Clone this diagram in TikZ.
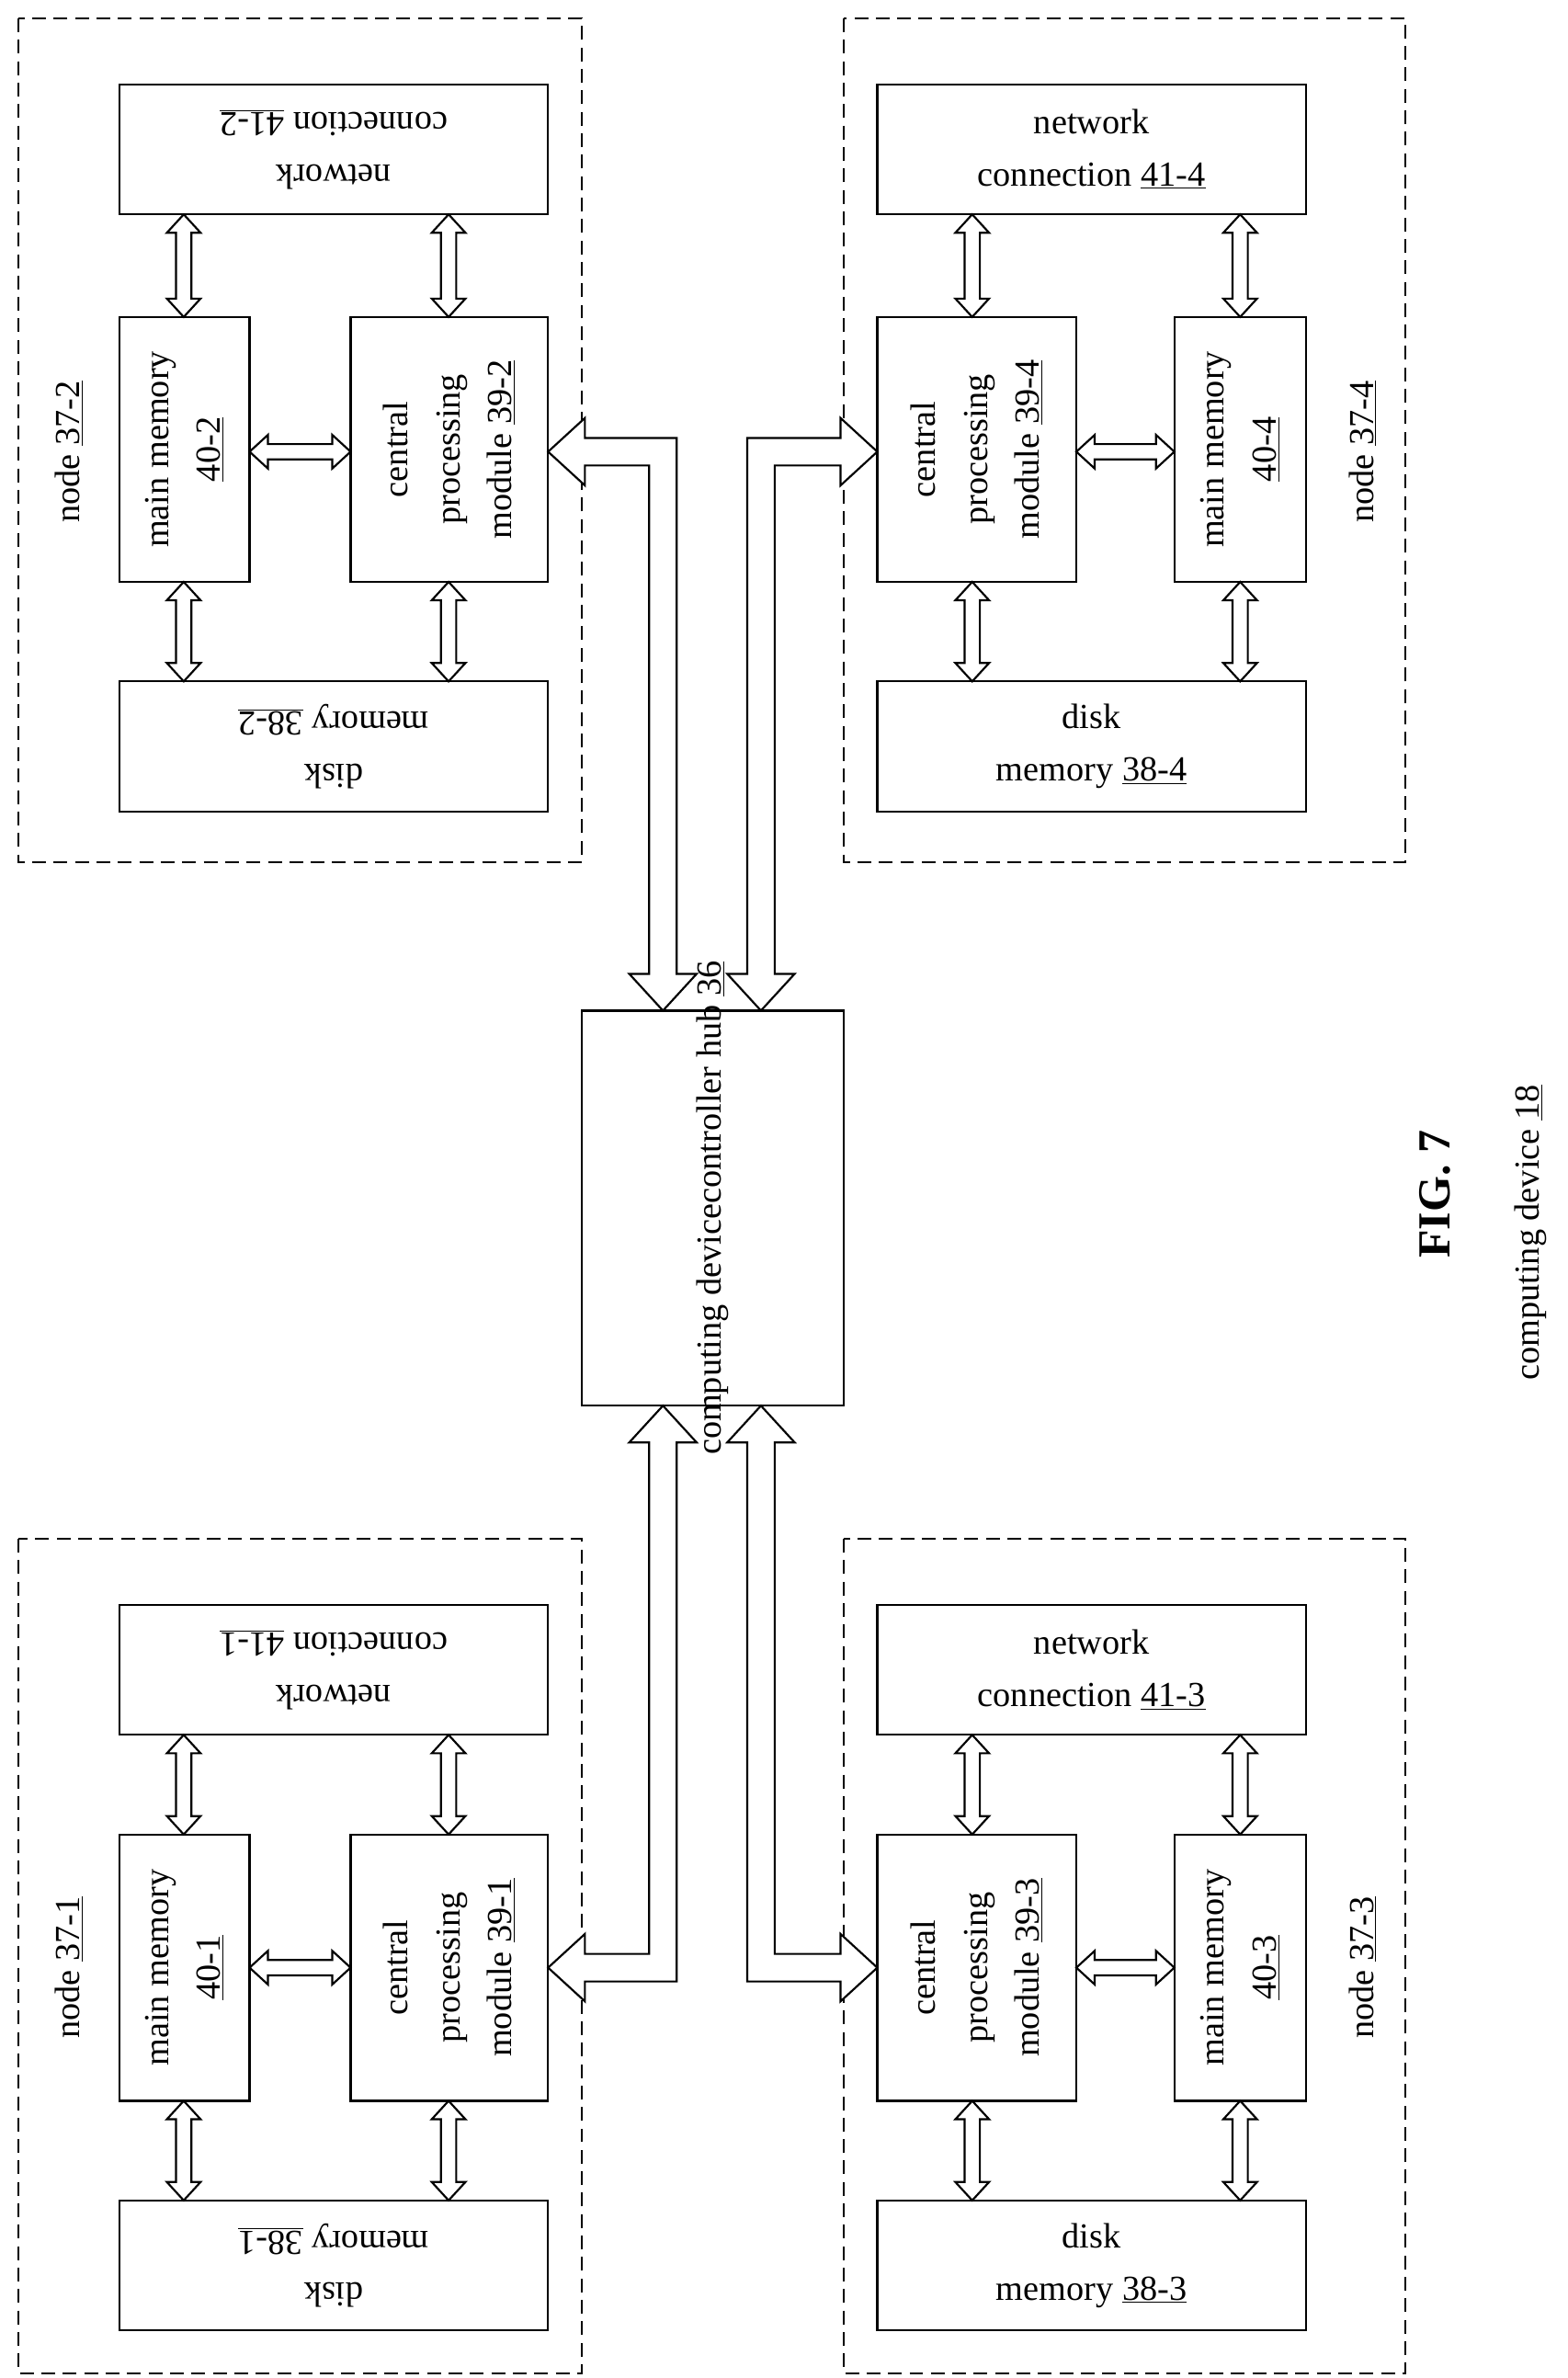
\documentclass[tikz,border=0pt]{standalone}
\usepackage{fontspec}
\setmainfont{Liberation Serif}
\begin{document}
\begin{tikzpicture}[x=1pt,y=-1pt,
  box/.style={draw,line width=1.3pt,align=center,inner sep=0pt,font=\fontsize{23}{34}\selectfont},
  grp/.style={draw,line width=1.3pt,dash pattern=on 9pt off 5pt},
  lab/.style={font=\fontsize{23}{34}\selectfont,rotate=90},
  arr/.style={draw,line width=1.3pt,fill=white}]
\useasboundingbox (0,0) rectangle (1024,1553);
\newcommand\mkbox[6]{\node[box,minimum width=#4-#2,minimum height=#5-#3] (#1) at ({(#2+#4)/2},{(#3+#5)/2}) {#6};}
% vertical double arrow: x, y1, y2
\newcommand\vda[3]{\path[arr] (#1,#2)--({#1+11},{#2+12})--({#1+5},{#2+12})--({#1+5},{#3-12})--({#1+11},{#3-12})--(#1,#3)--({#1-11},{#3-12})--({#1-5},{#3-12})--({#1-5},{#2+12})--({#1-11},{#2+12})--cycle;}
\newcommand\hda[3]{\path[arr] (#2,#1)--({#2+12},{#1+11})--({#2+12},{#1+5})--({#3-12},{#1+5})--({#3-12},{#1+11})--(#3,#1)--({#3-12},{#1-11})--({#3-12},{#1-5})--({#2+12},{#1-5})--({#2+12},{#1-11})--cycle;}
% dashed groups
\draw[grp] (12,12) rectangle (380,563);
\draw[grp] (551,12) rectangle (918,563);
\draw[grp] (12,1005) rectangle (380,1550);
\draw[grp] (551,1005) rectangle (918,1550);
% hub
\mkbox{hub}{380}{660}{551}{918}{}
\node[lab] at (hub.center) {computing device\\[-2pt]controller hub \underline{36}};
% top-left node 37-2
\mkbox{n2}{78}{55}{358}{140}{}
\node[box,draw=none,rotate=180] at (n2.center) {network\\connection \underline{41-2}};
\mkbox{m2}{78}{207}{163}{380}{}
\node[box,draw=none,rotate=90] at (m2.center) {main memory\\\underline{40-2}};
\mkbox{c2}{229}{207}{358}{380}{}
\node[box,draw=none,rotate=90] at (c2.center) {central\\processing\\module \underline{39-2}};
\mkbox{d2}{78}{445}{358}{530}{}
\node[box,draw=none,rotate=180] at (d2.center) {disk\\memory \underline{38-2}};
\node[lab,align=center] (g2) at (45,295) {node \underline{37-2}};
% top-right node 37-4
\mkbox{n4}{573}{55}{853}{140}{network\\connection \underline{41-4}}
\mkbox{c4}{573}{207}{703}{380}{}
\node[box,draw=none,rotate=90] at (c4.center) {central\\processing\\module \underline{39-4}};
\mkbox{m4}{767}{207}{853}{380}{}
\node[box,draw=none,rotate=90] at (m4.center) {main memory\\\underline{40-4}};
\mkbox{d4}{573}{445}{853}{530}{disk\\memory \underline{38-4}}
\node[lab] (g4) at (890,295) {node \underline{37-4}};
% bottom-left node 37-1
\mkbox{n1}{78}{1048}{358}{1133}{}
\node[box,draw=none,rotate=180] at (n1.center) {network\\connection \underline{41-1}};
\mkbox{m1}{78}{1198}{163}{1372}{}
\node[box,draw=none,rotate=90] at (m1.center) {main memory\\\underline{40-1}};
\mkbox{c1}{229}{1198}{358}{1372}{}
\node[box,draw=none,rotate=90] at (c1.center) {central\\processing\\module \underline{39-1}};
\mkbox{d1}{78}{1437}{358}{1522}{}
\node[box,draw=none,rotate=180] at (d1.center) {disk\\memory \underline{38-1}};
\node[lab] (g1) at (45,1285) {node \underline{37-1}};
% bottom-right node 37-3
\mkbox{n3}{573}{1048}{853}{1133}{network\\connection \underline{41-3}}
\mkbox{c3}{573}{1198}{703}{1372}{}
\node[box,draw=none,rotate=90] at (c3.center) {central\\processing\\module \underline{39-3}};
\mkbox{m3}{767}{1198}{853}{1372}{}
\node[box,draw=none,rotate=90] at (m3.center) {main memory\\\underline{40-3}};
\mkbox{d3}{573}{1437}{853}{1522}{disk\\memory \underline{38-3}}
\node[lab] (g3) at (890,1285) {node \underline{37-3}};
% small arrows
\vda{120}{140}{207}\vda{293}{140}{207}\vda{120}{380}{445}\vda{293}{380}{445}\hda{295}{163}{229}
\vda{635}{140}{207}\vda{810}{140}{207}\vda{635}{380}{445}\vda{810}{380}{445}\hda{295}{703}{767}
\vda{120}{1133}{1198}\vda{293}{1133}{1198}\vda{120}{1372}{1437}\vda{293}{1372}{1437}\hda{1285}{163}{229}
\vda{635}{1133}{1198}\vda{810}{1133}{1198}\vda{635}{1372}{1437}\vda{810}{1372}{1437}\hda{1285}{703}{767}
% big elbow arrows
\path[arr] (433,660)--(455,636)--(442,636)--(442,286)--(382,286)--(382,273)--(358,295)--(382,317)--(382,304)--(424,304)--(424,636)--(411,636)--cycle;
\path[arr] (497,660)--(475,636)--(488,636)--(488,286)--(549,286)--(549,273)--(573,295)--(549,317)--(549,304)--(506,304)--(506,636)--(519,636)--cycle;
\path[arr] (433,918)--(455,942)--(442,942)--(442,1294)--(382,1294)--(382,1307)--(358,1285)--(382,1263)--(382,1276)--(424,1276)--(424,942)--(411,942)--cycle;
\path[arr] (497,918)--(475,942)--(488,942)--(488,1294)--(549,1294)--(549,1307)--(573,1285)--(549,1263)--(549,1276)--(506,1276)--(506,942)--(519,942)--cycle;
% captions
\node[rotate=90,font=\fontsize{30}{36}\selectfont\bfseries] (fig) at (937,780) {FIG. 7};
\node[lab] (cd) at (1000,805) {computing device \underline{18}};
\end{tikzpicture}
\end{document}
